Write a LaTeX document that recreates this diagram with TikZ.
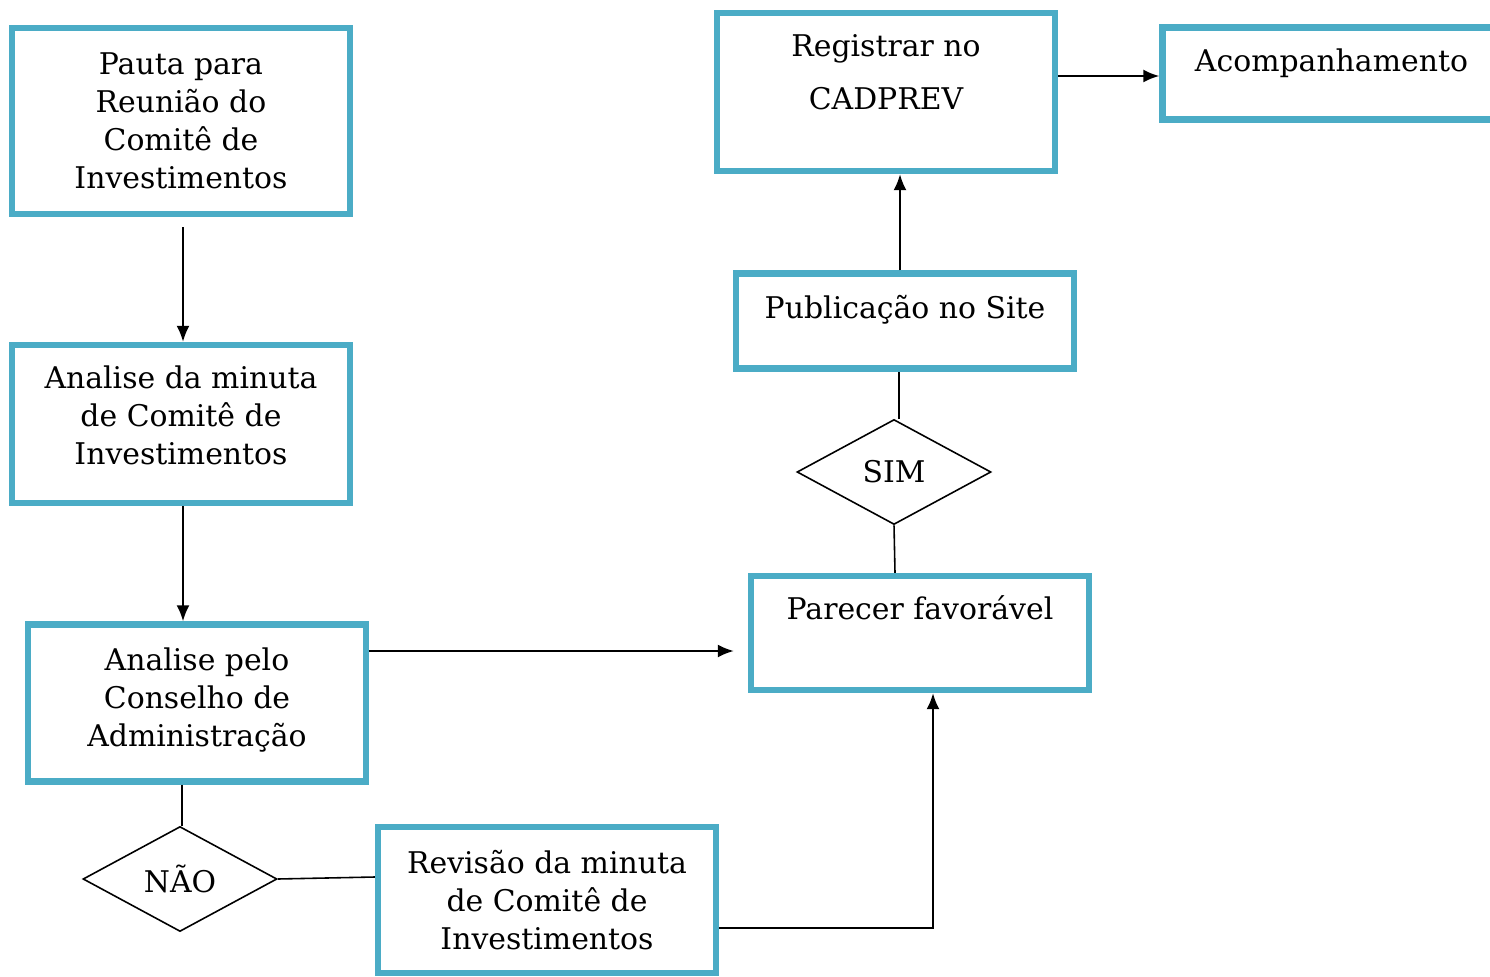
\documentclass[tikz,border=0pt]{standalone}
\usepackage{fontspec}
\setmainfont{DejaVu Serif}
\usetikzlibrary{shapes.geometric, positioning, arrows, arrows.meta}
\definecolor{caixaazul}{RGB}{75,172,198}
\tikzset{
>={Latex[length=3.2mm, width=2.6mm]}, % filled arrow heads
etapa/.style={draw=caixaazul, line width=3.6pt, minimum width=6.76cm, align=center, inner sep=0pt, font=\fontsize{17}{21.6}\selectfont}, % blue boxes
decisao/.style={diamond, draw, line width=0.9pt, minimum width=3.88cm, minimum height=2.1cm, inner sep=0pt, font=\fontsize{17}{21.6}\selectfont}, % SIM / NAO
seta/.style={->, line width=1.2pt},
liga/.style={line width=0.9pt},
}

\begin{document}
\begin{tikzpicture}
\useasboundingbox (0,0) rectangle (29.8,-19.52);
% left column
\node[etapa, minimum height=3.72cm] (pauta) at (3.62,-2.42) {Pauta para\\Reunião do\\Comitê de\\Investimentos};
\node[etapa, minimum height=3.16cm] (minuta) at (3.62,-8.48) {Analise da minuta\\de Comitê de\\Investimentos\\[-0.4cm]};
\node[etapa, minimum height=3.14cm] (conselho) at (3.94,-14.06) {Analise pelo\\Conselho de\\Administração\\[-0.52cm]};
\node[decisao] (nao) at (3.6,-17.58) {NÃO};
\node[etapa, minimum height=2.92cm] (revisao) at (10.94,-18.0) {Revisão da minuta\\de Comitê de\\Investimentos};
% right column
\node[etapa, minimum height=2.28cm, text depth=1.02cm] (parecer) at (18.4,-12.66) {Parecer favorável};
\node[decisao] (sim) at (17.88,-9.44) {SIM};
\node[etapa, minimum height=1.9cm, text depth=0.58cm] (site) at (18.1,-6.42) {Publicação no Site};
\node[etapa, minimum height=3.16cm, text depth=0.8cm] (cadprev) at (17.72,-1.84) {Registrar no\\[9pt]CADPREV};
\node[etapa, minimum height=1.84cm, text depth=0.54cm] (acomp) at (26.63,-1.47) {Acompanhamento};

% edges
\draw[seta, shorten <=0.2cm] ([xshift=0.04cm]pauta.south) -- ([xshift=0.04cm]minuta.north); % pauta to minuta
\draw[seta] ([xshift=0.04cm]minuta.south) -- ([xshift=0.04cm]minuta.south |- conselho.north); % minuta to conselho
\draw[seta, shorten >=0.28cm] ([yshift=1.04cm]conselho.east) -- ([yshift=1.04cm]conselho.east -| parecer.west); % conselho to parecer
\draw[liga] ([xshift=0.04cm]nao.north |- conselho.south) -- ([xshift=0.04cm]nao.north); % conselho to nao
\draw[liga] (nao.east) -- ([yshift=0.46cm]revisao.west); % nao to revisao
\draw[seta] ([yshift=-0.56cm]revisao.east) -| ([xshift=0.26cm]parecer.south); % revisao to parecer
\draw[liga] ([xshift=0.02cm]parecer.north -| sim.south) -- (sim.south); % parecer to sim
\draw[liga] ([xshift=0.1cm]sim.north) -- ([xshift=0.1cm]sim.north |- site.south); % sim to site
\draw[seta] ([xshift=-0.1cm]site.north) -- ([xshift=-0.1cm]site.north |- cadprev.south); % site to cadprev
\draw[seta] ([yshift=0.32cm]cadprev.east) -- ([yshift=0.32cm]cadprev.east -| acomp.west); % cadprev to acomp
\end{tikzpicture}
\end{document}
